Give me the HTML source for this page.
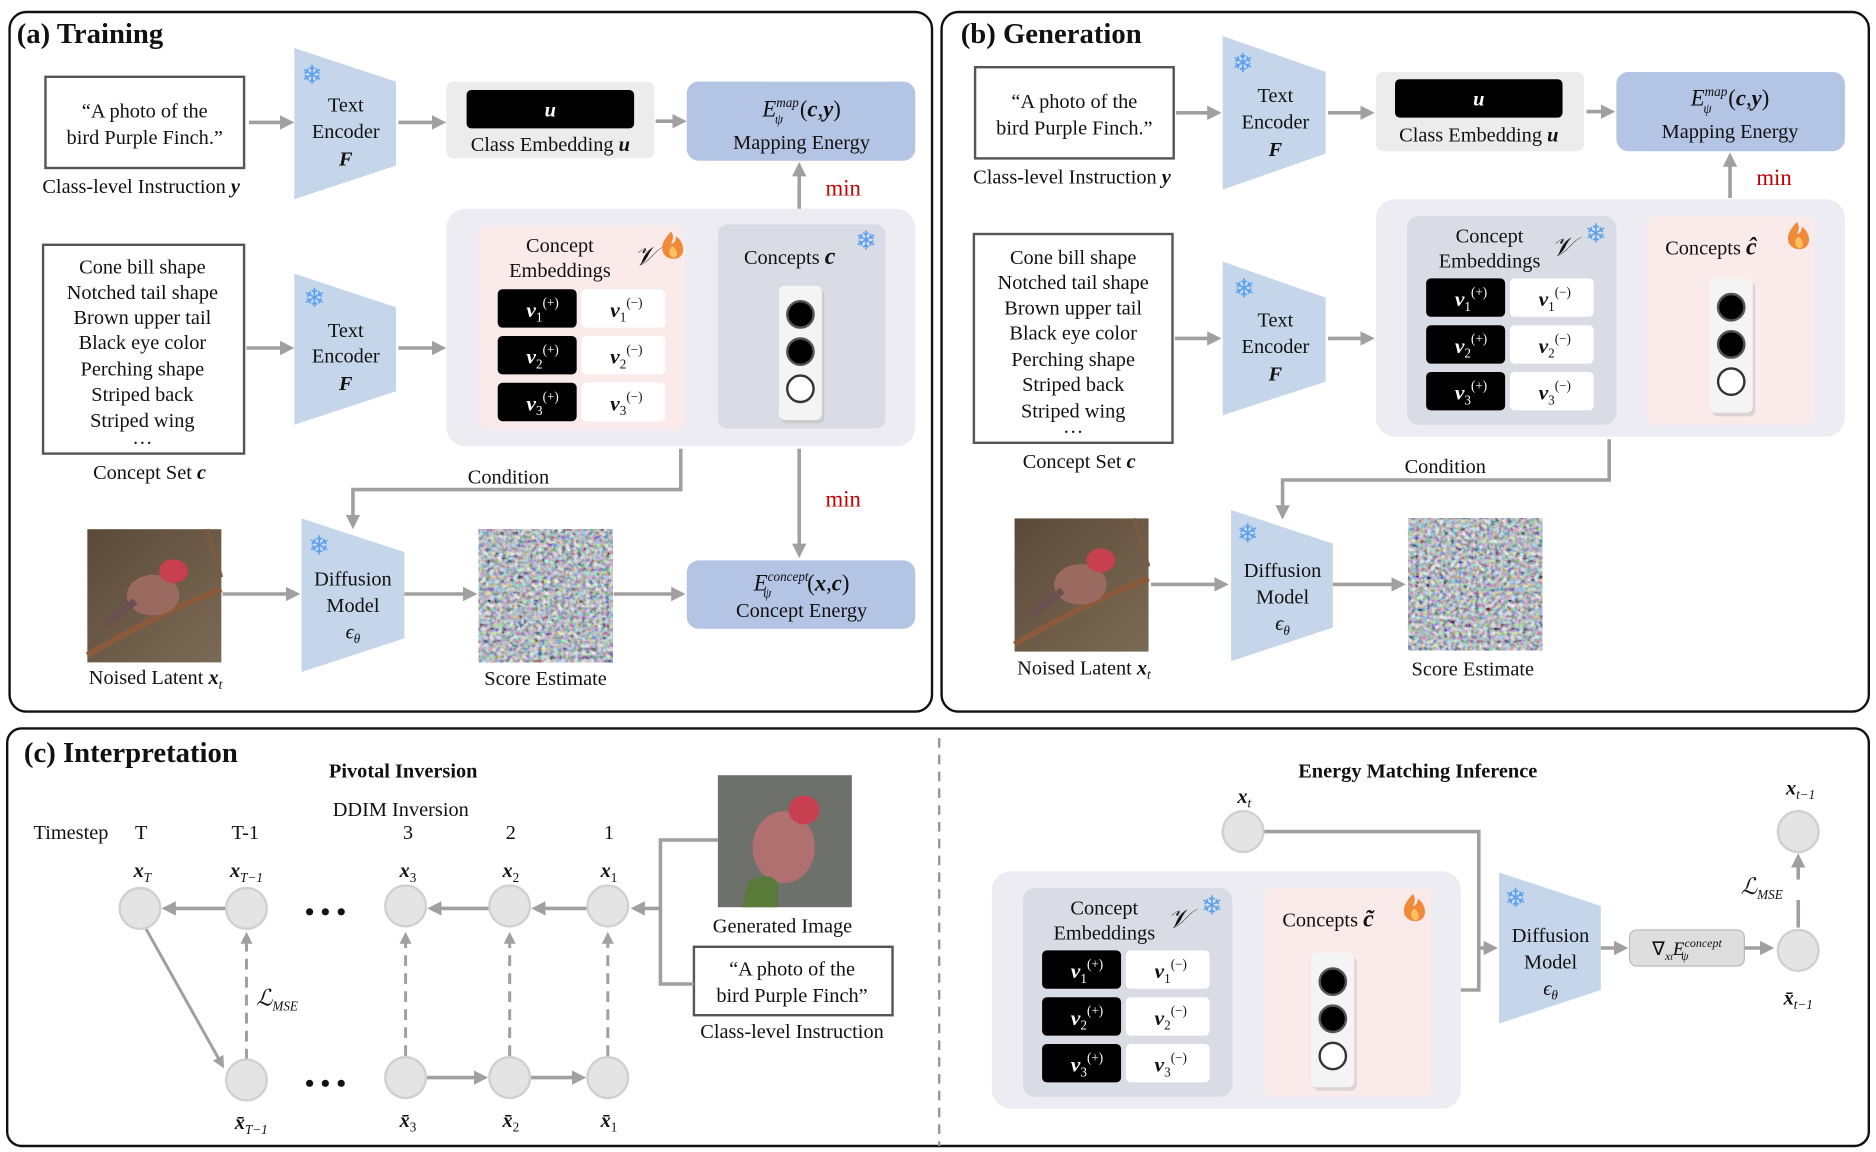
<!DOCTYPE html>
<html><head><meta charset="utf-8"><style>
html,body{margin:0;padding:0;background:#fff;}
svg{display:block;}
text{font-family:"Liberation Serif",serif;fill:#111;}
.t{font-size:17px;text-anchor:middle;}
.b{font-weight:bold;}
.mi{font-style:italic;font-weight:bold;}
.ti{font-size:24px;font-weight:bold;}
.r{fill:#c00000;font-size:19px;}
.snow{fill:#5aa0ee;font-size:22px;font-family:"DejaVu Sans",sans-serif;text-anchor:middle;}
</style></head><body>
<svg width="1876" height="1152" viewBox="0 0 1568 960" preserveAspectRatio="none" xmlns="http://www.w3.org/2000/svg">
<defs>
<marker id="a" markerWidth="4" markerHeight="4" refX="3" refY="2" orient="auto" markerUnits="strokeWidth"><path d="M0,0 L4,2 L0,4 z" fill="#a0a0a0"/></marker>
<filter id="nz" x="0" y="0" width="100%" height="100%"><feTurbulence type="fractalNoise" baseFrequency="0.3" numOctaves="2" seed="3"/><feColorMatrix type="matrix" values="1.2 0.4 0.2 0 -0.45  0.3 1.2 0.3 0 -0.42  0.2 0.4 1.2 0 -0.38  0 0 0 0 1"/></filter>
<linearGradient id="bg1" x1="0" y1="0" x2="1" y2="1"><stop offset="0" stop-color="#5a4a38"/><stop offset="1" stop-color="#7a6a55"/></linearGradient>
<g id="bird">
<rect width="112" height="111" fill="url(#bg1)"/>
<path d="M0,105 Q60,70 112,50" stroke="#8a5a3a" stroke-width="5" fill="none"/>
<path d="M100,0 L112,40" stroke="#7a5a40" stroke-width="3"/>
<ellipse cx="55" cy="55" rx="22" ry="17" fill="#9a6a60"/>
<ellipse cx="72" cy="35" rx="12" ry="10" fill="#c84050"/>
<path d="M40,60 L15,80" stroke="#6a5050" stroke-width="6"/>
</g>
<g id="flame"><path d="M0,0 C-8,8 -9,14 -6,19 C-2,24 6,24 9,19 C12,14 8,6 4,4 C4,8 2,10 0,10 C2,6 2,3 0,0z" fill="#f08a3a"/><path d="M1,12 C-3,15 -2,21 2,22 C6,21 6,16 1,12z" fill="#fbc060"/></g>
<g id="pill"><rect x="2" y="3" width="36" height="112" rx="5" fill="#bbb" opacity="0.5"/><rect width="36" height="112" rx="5" fill="#f4f4f4"/><circle cx="18" cy="24" r="11" fill="#000" stroke="#555" stroke-width="2"/><circle cx="18" cy="55" r="11" fill="#000" stroke="#555" stroke-width="2"/><circle cx="18" cy="86" r="11" fill="#fff" stroke="#333" stroke-width="2"/></g>
<g id="cells">
<rect x="0" y="0" width="66" height="32" rx="4" fill="#000"/><rect x="70" y="0" width="70" height="32" rx="4" fill="#fff"/>
<rect x="0" y="39" width="66" height="32" rx="4" fill="#000"/><rect x="70" y="39" width="70" height="32" rx="4" fill="#fff"/>
<rect x="0" y="78" width="66" height="32" rx="4" fill="#000"/><rect x="70" y="78" width="70" height="32" rx="4" fill="#fff"/>
<text x="24" y="23" class="mi" style="fill:#fff;font-size:18px">v<tspan font-size="11" dy="4" font-weight="normal" font-style="normal">1</tspan><tspan font-size="11" dy="-12" font-weight="normal" font-style="normal">(+)</tspan></text>
<text x="24" y="62" class="mi" style="fill:#fff;font-size:18px">v<tspan font-size="11" dy="4" font-weight="normal" font-style="normal">2</tspan><tspan font-size="11" dy="-12" font-weight="normal" font-style="normal">(+)</tspan></text>
<text x="24" y="101" class="mi" style="fill:#fff;font-size:18px">v<tspan font-size="11" dy="4" font-weight="normal" font-style="normal">3</tspan><tspan font-size="11" dy="-12" font-weight="normal" font-style="normal">(+)</tspan></text>
<text x="94" y="23" class="mi" style="font-size:18px">v<tspan font-size="11" dy="4" font-weight="normal" font-style="normal">1</tspan><tspan font-size="11" dy="-12" font-weight="normal" font-style="normal">(−)</tspan></text>
<text x="94" y="62" class="mi" style="font-size:18px">v<tspan font-size="11" dy="4" font-weight="normal" font-style="normal">2</tspan><tspan font-size="11" dy="-12" font-weight="normal" font-style="normal">(−)</tspan></text>
<text x="94" y="101" class="mi" style="font-size:18px">v<tspan font-size="11" dy="4" font-weight="normal" font-style="normal">3</tspan><tspan font-size="11" dy="-12" font-weight="normal" font-style="normal">(−)</tspan></text>
</g>
</defs>

<!-- panels -->
<rect x="8" y="10" width="771" height="583" rx="14" fill="none" stroke="#111" stroke-width="2"/>
<rect x="787" y="10" width="775" height="583" rx="14" fill="none" stroke="#111" stroke-width="2"/>
<rect x="6" y="607" width="1556" height="348" rx="12" fill="none" stroke="#111" stroke-width="2"/>
<line x1="785" y1="615" x2="785" y2="955" stroke="#999" stroke-width="2" stroke-dasharray="8,6"/>

<!-- ===== (a) ===== -->
<text x="14" y="36" class="ti">(a) Training</text>
<rect x="38" y="64" width="166" height="76" fill="#fff" stroke="#555" stroke-width="2"/>
<text x="121" y="98" class="t">“A photo of the</text>
<text x="121" y="120" class="t">bird Purple Finch.”</text>
<text x="118" y="161" class="t">Class-level Instruction <tspan class="mi">y</tspan></text>
<path d="M246,40 L331,68 L331,138 L246,166z" fill="#c5d6ea"/>
<text x="261" y="70" class="snow">❄</text>
<text x="289" y="93" class="t">Text</text><text x="289" y="115" class="t">Encoder</text><text x="289" y="138" class="t mi">F</text>
<rect x="373" y="68" width="174" height="64" rx="6" fill="#ececec"/>
<rect x="390" y="75" width="140" height="32" rx="4" fill="#000"/>
<text x="460" y="97" class="t mi" style="fill:#fff">u</text>
<text x="460" y="126" class="t">Class Embedding <tspan class="mi">u</tspan></text>
<rect x="574" y="68" width="191" height="66" rx="10" fill="#b4c4e4"/>
<text x="670" y="97" class="t" style="font-size:19px"><tspan font-style="italic">E</tspan><tspan font-size="11" font-style="italic" dy="-8">map</tspan><tspan font-size="11" font-style="italic" dx="-20" dy="14">ψ</tspan><tspan dy="-6" dx="14">(</tspan><tspan class="mi">c</tspan>,<tspan class="mi">y</tspan>)</text>
<text x="670" y="124" class="t">Mapping Energy</text>
<text x="690" y="163" class="r">min</text>

<rect x="36" y="204" width="168" height="174" fill="#fff" stroke="#555" stroke-width="2"/>
<text x="119" y="228" class="t">Cone bill shape</text><text x="119" y="249" class="t">Notched tail shape</text><text x="119" y="270" class="t">Brown upper tail</text><text x="119" y="291" class="t">Black eye color</text><text x="119" y="313" class="t">Perching shape</text><text x="119" y="334" class="t">Striped back</text><text x="119" y="356" class="t">Striped wing</text><text x="119" y="370" class="t">…</text>
<text x="125" y="399" class="t">Concept Set <tspan class="mi">c</tspan></text>
<path d="M246,228 L331,256 L331,326 L246,354z" fill="#c5d6ea"/>
<text x="263" y="256" class="snow">❄</text>
<text x="289" y="281" class="t">Text</text><text x="289" y="302" class="t">Encoder</text><text x="289" y="325" class="t mi">F</text>
<rect x="373" y="174" width="392" height="198" rx="16" fill="#ececf2"/>
<rect x="400" y="188" width="172" height="170" rx="10" fill="#fbeaea"/>
<text x="468" y="210" class="t">Concept</text><text x="468" y="231" class="t">Embeddings</text>
<text x="530" y="221" style="font-size:22px;font-style:italic">𝒱</text>
<use href="#flame" x="561" y="193"/>
<use href="#cells" x="416" y="241"/>
<rect x="600" y="187" width="140" height="170" rx="8" fill="#d9dce4"/>
<text x="660" y="220" class="t">Concepts <tspan class="mi" font-size="20">c</tspan></text>
<text x="724" y="208" class="snow">❄</text>
<use href="#pill" x="651" y="238"/>
<text x="425" y="403" class="t">Condition</text>
<text x="690" y="422" class="r">min</text>
<use href="#bird" x="73" y="441"/>
<text x="130" y="570" class="t">Noised Latent <tspan class="mi">x</tspan><tspan font-size="11" font-style="italic" dy="4">t</tspan></text>
<path d="M252,432 L338,460 L338,532 L252,560z" fill="#c5d6ea"/>
<text x="267" y="462" class="snow">❄</text>
<text x="295" y="488" class="t">Diffusion</text><text x="295" y="510" class="t">Model</text><text x="295" y="532" class="t" font-style="italic">ϵ<tspan font-size="11" dy="4">θ</tspan></text>
<rect x="400" y="441" width="112" height="111" filter="url(#nz)"/>
<text x="456" y="571" class="t">Score Estimate</text>
<rect x="574" y="467" width="191" height="57" rx="10" fill="#b4c4e4"/>
<text x="670" y="492" class="t" style="font-size:19px"><tspan font-style="italic">E</tspan><tspan font-size="11" font-style="italic" dy="-8">concept</tspan><tspan font-size="11" font-style="italic" dx="-38" dy="14">ψ</tspan><tspan dy="-6" dx="30">(</tspan><tspan class="mi">x</tspan>,<tspan class="mi">c</tspan>)</text>
<text x="670" y="514" class="t">Concept Energy</text>

<!-- ===== (b) ===== -->
<text x="803" y="36" class="ti">(b) Generation</text>
<rect x="815" y="56" width="166" height="76" fill="#fff" stroke="#555" stroke-width="2"/>
<text x="898" y="90" class="t">“A photo of the</text><text x="898" y="112" class="t">bird Purple Finch.”</text>
<text x="896" y="153" class="t">Class-level Instruction <tspan class="mi">y</tspan></text>
<path d="M1022,30 L1108,60 L1108,128 L1022,158z" fill="#c5d6ea"/>
<text x="1039" y="60" class="snow">❄</text>
<text x="1066" y="85" class="t">Text</text><text x="1066" y="107" class="t">Encoder</text><text x="1066" y="130" class="t mi">F</text>
<rect x="1150" y="60" width="174" height="66" rx="6" fill="#ececec"/>
<rect x="1166" y="66" width="140" height="32" rx="4" fill="#000"/>
<text x="1236" y="88" class="t mi" style="fill:#fff">u</text>
<text x="1236" y="118" class="t">Class Embedding <tspan class="mi">u</tspan></text>
<rect x="1351" y="60" width="191" height="66" rx="10" fill="#b4c4e4"/>
<text x="1446" y="88" class="t" style="font-size:19px"><tspan font-style="italic">E</tspan><tspan font-size="11" font-style="italic" dy="-8">map</tspan><tspan font-size="11" font-style="italic" dx="-20" dy="14">ψ</tspan><tspan dy="-6" dx="14">(</tspan><tspan class="mi">c</tspan>,<tspan class="mi">y</tspan>)</text>
<text x="1446" y="115" class="t">Mapping Energy</text>
<text x="1468" y="154" class="r">min</text>
<rect x="814" y="195" width="166" height="174" fill="#fff" stroke="#555" stroke-width="2"/>
<text x="897" y="220" class="t">Cone bill shape</text><text x="897" y="241" class="t">Notched tail shape</text><text x="897" y="262" class="t">Brown upper tail</text><text x="897" y="283" class="t">Black eye color</text><text x="897" y="305" class="t">Perching shape</text><text x="897" y="326" class="t">Striped back</text><text x="897" y="348" class="t">Striped wing</text><text x="897" y="361" class="t">…</text>
<text x="902" y="390" class="t">Concept Set <tspan class="mi">c</tspan></text>
<path d="M1022,218 L1108,248 L1108,318 L1022,346z" fill="#c5d6ea"/>
<text x="1040" y="248" class="snow">❄</text>
<text x="1066" y="272" class="t">Text</text><text x="1066" y="294" class="t">Encoder</text><text x="1066" y="317" class="t mi">F</text>
<rect x="1150" y="166" width="392" height="198" rx="16" fill="#ececf2"/>
<rect x="1176" y="180" width="175" height="174" rx="10" fill="#d9dce4"/>
<text x="1245" y="202" class="t">Concept</text><text x="1245" y="223" class="t">Embeddings</text>
<text x="1297" y="213" style="font-size:22px;font-style:italic">𝒱</text>
<text x="1334" y="202" class="snow">❄</text>
<use href="#cells" x="1192" y="232"/>
<rect x="1376" y="180" width="140" height="174" rx="8" fill="#fbeaea"/>
<text x="1430" y="212" class="t">Concepts <tspan class="mi" font-size="20">ĉ</tspan></text>
<use href="#flame" x="1502" y="185"/>
<use href="#pill" x="1429" y="232"/>
<text x="1208" y="394" class="t">Condition</text>
<use href="#bird" x="848" y="432"/>
<text x="906" y="562" class="t">Noised Latent <tspan class="mi">x</tspan><tspan font-size="11" font-style="italic" dy="4">t</tspan></text>
<path d="M1029,425 L1114,453 L1114,523 L1029,551z" fill="#c5d6ea"/>
<text x="1043" y="452" class="snow">❄</text>
<text x="1072" y="481" class="t">Diffusion</text><text x="1072" y="503" class="t">Model</text><text x="1072" y="525" class="t" font-style="italic">ϵ<tspan font-size="11" dy="4">θ</tspan></text>
<rect x="1177" y="432" width="112" height="110" filter="url(#nz)"/>
<text x="1231" y="563" class="t">Score Estimate</text>

<!-- ===== (c) ===== -->
<text x="20" y="635" class="ti">(c) Interpretation</text>
<text x="337" y="648" class="t b">Pivotal Inversion</text>
<text x="335" y="680" class="t">DDIM Inversion</text>
<text x="28" y="699" style="font-size:17px">Timestep</text><text x="118" y="699" class="t">T</text>
<text x="205" y="699" class="t">T-1</text><text x="341" y="699" class="t">3</text><text x="427" y="699" class="t">2</text><text x="509" y="699" class="t">1</text>
<text x="119" y="731" class="t mi">x<tspan font-size="11" dy="4" font-style="italic" font-weight="normal">T</tspan></text>
<text x="206" y="731" class="t mi">x<tspan font-size="11" dy="4" font-style="italic" font-weight="normal">T−1</tspan></text>
<text x="341" y="731" class="t mi">x<tspan font-size="11" dy="4" font-weight="normal" font-style="normal">3</tspan></text>
<text x="427" y="731" class="t mi">x<tspan font-size="11" dy="4" font-weight="normal" font-style="normal">2</tspan></text>
<text x="509" y="731" class="t mi">x<tspan font-size="11" dy="4" font-weight="normal" font-style="normal">1</tspan></text>
<text x="210" y="941" class="t mi">x̄<tspan font-size="11" dy="4" font-style="italic" font-weight="normal">T−1</tspan></text>
<text x="341" y="939" class="t mi">x̄<tspan font-size="11" dy="4" font-weight="normal" font-style="normal">3</tspan></text>
<text x="427" y="939" class="t mi">x̄<tspan font-size="11" dy="4" font-weight="normal" font-style="normal">2</tspan></text>
<text x="509" y="939" class="t mi">x̄<tspan font-size="11" dy="4" font-weight="normal" font-style="normal">1</tspan></text>
<text x="272" y="767" class="t b" style="font-size:22px">• • •</text>
<text x="272" y="910" class="t b" style="font-size:22px">• • •</text>
<text x="214" y="838" style="font-size:19px;font-style:italic">ℒ<tspan font-size="11" dy="4">MSE</tspan></text>
<rect x="600" y="646" width="112" height="110" fill="#6e706c"/>
<ellipse cx="655" cy="706" rx="26" ry="30" fill="#b07070"/>
<ellipse cx="672" cy="675" rx="13" ry="12" fill="#c84050"/>
<path d="M620,756 L625,735 Q640,725 650,735 L650,756z" fill="#5a7a3a"/>
<text x="654" y="777" class="t">Generated Image</text>
<rect x="580" y="789" width="166" height="57" fill="#fff" stroke="#555" stroke-width="2"/>
<text x="662" y="813" class="t">“A photo of the</text><text x="662" y="835" class="t">bird Purple Finch”</text>
<text x="662" y="865" class="t">Class-level Instruction</text>

<text x="1185" y="648" class="t b">Energy Matching Inference</text>
<text x="1040" y="669" class="t mi">x<tspan font-size="11" dy="4" font-style="italic" font-weight="normal">t</tspan></text>
<rect x="829" y="726" width="392" height="198" rx="16" fill="#ececf2"/>
<rect x="855" y="740" width="175" height="174" rx="10" fill="#d9dce4"/>
<text x="923" y="762" class="t">Concept</text><text x="923" y="783" class="t">Embeddings</text>
<text x="976" y="773" style="font-size:22px;font-style:italic">𝒱</text>
<text x="1013" y="762" class="snow">❄</text>
<use href="#cells" x="871" y="792"/>
<rect x="1056" y="740" width="140" height="174" rx="8" fill="#fbeaea"/>
<text x="1110" y="772" class="t">Concepts <tspan class="mi" font-size="20">c̃</tspan></text>
<use href="#flame" x="1181" y="745"/>
<use href="#pill" x="1096" y="794"/>
<path d="M1253,727 L1338,755 L1338,825 L1253,853z" fill="#c5d6ea"/>
<text x="1267" y="756" class="snow">❄</text>
<text x="1296" y="785" class="t">Diffusion</text><text x="1296" y="807" class="t">Model</text><text x="1296" y="829" class="t" font-style="italic">ϵ<tspan font-size="11" dy="4">θ</tspan></text>
<rect x="1362" y="775" width="96" height="30" rx="6" fill="#dedede" stroke="#bbb"/>
<text x="1410" y="796" class="t" style="font-size:16px">∇<tspan font-size="10" font-style="italic" dy="4">x<tspan font-size="8">t</tspan></tspan><tspan font-style="italic" dy="-4">E</tspan><tspan font-size="10" font-style="italic" dy="-7">concept</tspan><tspan font-size="10" font-style="italic" dx="-34" dy="11">ψ</tspan></text>
<text x="1505" y="662" class="t mi">x<tspan font-size="11" dy="4" font-style="italic" font-weight="normal">t−1</tspan></text>
<text x="1503" y="837" class="t mi">x̄<tspan font-size="11" dy="4" font-style="italic" font-weight="normal">t−1</tspan></text>
<text x="1455" y="745" style="font-size:19px;font-style:italic">ℒ<tspan font-size="11" dy="4">MSE</tspan></text>

<!-- connectors -->
<g stroke="#a0a0a0" stroke-width="3" fill="none">
<path d="M208,102 H243" marker-end="url(#a)"/>
<path d="M333,102 H370" marker-end="url(#a)"/>
<path d="M548,101 H571" marker-end="url(#a)"/>
<path d="M668,174 V138" marker-end="url(#a)"/>
<path d="M206,290 H243" marker-end="url(#a)"/>
<path d="M333,290 H370" marker-end="url(#a)"/>
<path d="M569,374 V408 H295 V438" marker-end="url(#a)"/>
<path d="M668,374 V462" marker-end="url(#a)"/>
<path d="M186,495 H248" marker-end="url(#a)"/>
<path d="M338,495 H396" marker-end="url(#a)"/>
<path d="M513,495 H570" marker-end="url(#a)"/>

<path d="M983,94 H1018" marker-end="url(#a)"/>
<path d="M1110,94 H1146" marker-end="url(#a)"/>
<path d="M1326,93 H1347" marker-end="url(#a)"/>
<path d="M1446,165 V130" marker-end="url(#a)"/>
<path d="M982,282 H1018" marker-end="url(#a)"/>
<path d="M1110,282 H1146" marker-end="url(#a)"/>
<path d="M1345,366 V400 H1072 V430" marker-end="url(#a)"/>
<path d="M962,487 H1024" marker-end="url(#a)"/>
<path d="M1114,487 H1172" marker-end="url(#a)"/>

<path d="M189,757 H138" marker-end="url(#a)"/>
<path d="M409,757 H360" marker-end="url(#a)"/>
<path d="M491,757 H447" marker-end="url(#a)"/>
<path d="M600,700 H552 V820 H580"/>
<path d="M552,757 H530" marker-end="url(#a)"/>
<path d="M356,898 H405" marker-end="url(#a)"/>
<path d="M443,898 H487" marker-end="url(#a)"/>
<path d="M122,774 L186,888" stroke-width="2.5" marker-end="url(#a)"/>
<path d="M1056,693 H1236 V790 H1249" marker-end="url(#a)"/>
<path d="M1221,825 H1236 V790"/>
<path d="M1338,790 H1358" marker-end="url(#a)"/>
<path d="M1458,790 H1480" marker-end="url(#a)"/>
<path d="M1503,773 V750"/>
<path d="M1503,733 V714" marker-end="url(#a)"/>
</g>
<g stroke="#a0a0a0" stroke-width="2.5" fill="none" stroke-dasharray="9,6">
<path d="M206,883 V779" marker-end="url(#a)"/>
<path d="M339,880 V779" marker-end="url(#a)"/>
<path d="M426,880 V779" marker-end="url(#a)"/>
<path d="M508,880 V779" marker-end="url(#a)"/>
</g>
<g fill="#e4e4e4" stroke="#d0d0d0" stroke-width="2">
<circle cx="117" cy="757" r="17"/><circle cx="206" cy="757" r="17"/><circle cx="339" cy="755" r="17"/><circle cx="426" cy="755" r="17"/><circle cx="508" cy="755" r="17"/>
<circle cx="206" cy="900" r="17"/><circle cx="339" cy="898" r="17"/><circle cx="426" cy="898" r="17"/><circle cx="508" cy="898" r="17"/>
<circle cx="1039" cy="693" r="17"/><circle cx="1503" cy="792" r="17"/><circle cx="1503" cy="693" r="17"/>
</g>
</svg>
</body></html>
